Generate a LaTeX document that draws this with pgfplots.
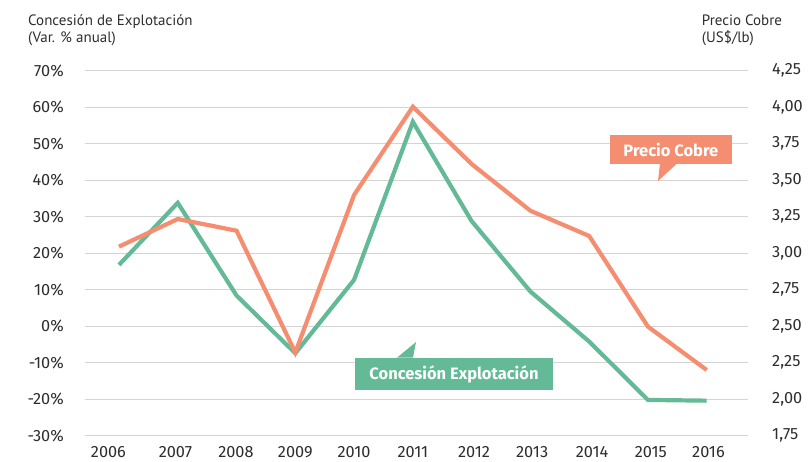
\documentclass[border=0pt]{standalone}
\usepackage{pgfplots}
\pgfplotsset{compat=1.18}
\usepackage{fontspec}
\setmainfont{PT Sans}
\newfontfamily\tickfont{Fira Sans}
\definecolor{cgreen}{RGB}{100,186,150}
\definecolor{corange}{RGB}{245,142,112}
\definecolor{cgrid}{RGB}{212,212,212}
\definecolor{ctext}{RGB}{45,45,45}
\begin{document}
\fontsize{15bp}{18bp}\selectfont
\begin{tikzpicture}[text=ctext]
\useasboundingbox (-85bp,-26.3bp) rectangle (723bp,435.7bp);
\begin{axis}[
  scale only axis, width=662.7bp, height=365bp,
  at={(0,0)}, anchor=south west,
  xmin=2005.4215, xmax=2016.6977, ymin=-30, ymax=70,
  xtick={2005.82,2006.96,2007.99,2009,2010,2011,2012.04,2013.03,2014.05,2015.05,2016.03},
  xticklabels={2006,2007,2008,2009,2010,2011,2012,2013,2014,2015,2016},
  ytick={-30,-20,-10,0,10,20,30,40,50,60,70},
  /pgf/number format/assume math mode=true,
  yticklabel={\pgfmathprintnumber{\tick}\%},
  ymajorgrids, grid style={cgrid, line width=1.3bp},
  axis line style={draw=none}, major tick length=0pt,
  yticklabel style={anchor=east, inner sep=0pt, xshift=-21bp, text=ctext, font=\tickfont\fontsize{16.3bp}{18bp}\selectfont},
  xticklabel style={anchor=base, inner sep=0pt, yshift=-21.3bp, text=ctext, font=\tickfont\fontsize{16.3bp}{18bp}\selectfont},
  clip=false,
]
\addplot[cgreen, line width=4.2bp, line join=miter] coordinates {
(2006,16.8) (2007,33.8) (2008,8.4) (2009,-7.4) (2010,12.7) (2011,56.0)
(2012,28.8) (2013,9.5) (2014,-4.2) (2015,-20.2) (2016,-20.4)};
% callout Concesion
\fill[cgreen] (axis cs:2010.016,-8.71) rectangle (axis cs:2013.385,-17.48);
\fill[cgreen] (axis cs:2010.731,-8.60) -- (axis cs:2011.054,-4.33) -- (axis cs:2011.003,-8.60) -- cycle;
\node[text=white, font=\tickfont\bfseries\fontsize{16.5bp}{18bp}\selectfont] at (axis cs:2011.70,-13.1) {Concesión Explotación};
% callout Precio
\fill[corange] (axis cs:2014.355,52.38) rectangle (axis cs:2016.425,44.44);
\fill[corange] (axis cs:2015.205,44.55) -- (axis cs:2015.171,39.78) -- (axis cs:2015.494,44.55) -- cycle;
\node[text=white, font=\tickfont\bfseries\fontsize{16.5bp}{18bp}\selectfont] at (axis cs:2015.39,48.41) {Precio Cobre};
\end{axis}
\begin{axis}[
  scale only axis, width=662.7bp, height=365bp,
  at={(0,0)}, anchor=south west,
  xmin=2005.4215, xmax=2016.6977, ymin=1.75, ymax=4.25,
  hide x axis, axis y line*=right,
  ytick={1.75,2.00,2.25,2.50,2.75,3.00,3.25,3.50,3.75,4.00,4.25},
  /pgf/number format/assume math mode=true,
  yticklabel style={/pgf/number format/.cd, fixed, fixed zerofill, precision=2, use comma, /tikz/.cd,
    anchor=west, inner sep=0pt, xshift=24.3bp, text=ctext, font=\tickfont\fontsize{16.3bp}{18bp}\selectfont},
  axis line style={draw=none}, major tick length=0pt,
  clip=false,
]
\addplot[corange, line width=4.2bp, line join=miter] coordinates {
(2006,3.045) (2007,3.234) (2008,3.154) (2009,2.32) (2010,3.399) (2011,4.003)
(2012,3.611) (2013,3.291) (2014,3.118) (2015,2.497) (2016,2.20)};
\end{axis}
\node[anchor=base west, inner sep=0pt, text=ctext] at (-57bp,409.7bp) {Concesión de Explotación};
\node[anchor=base west, inner sep=0pt, text=ctext] at (-57bp,393.2bp) {(Var. \% anual)};
\node[anchor=base west, inner sep=0pt, text=ctext] at (616.7bp,409.7bp) {Precio Cobre};
\node[anchor=base west, inner sep=0pt, text=ctext] at (616.7bp,393.2bp) {(US\$/lb)};
\end{tikzpicture}
\end{document}
